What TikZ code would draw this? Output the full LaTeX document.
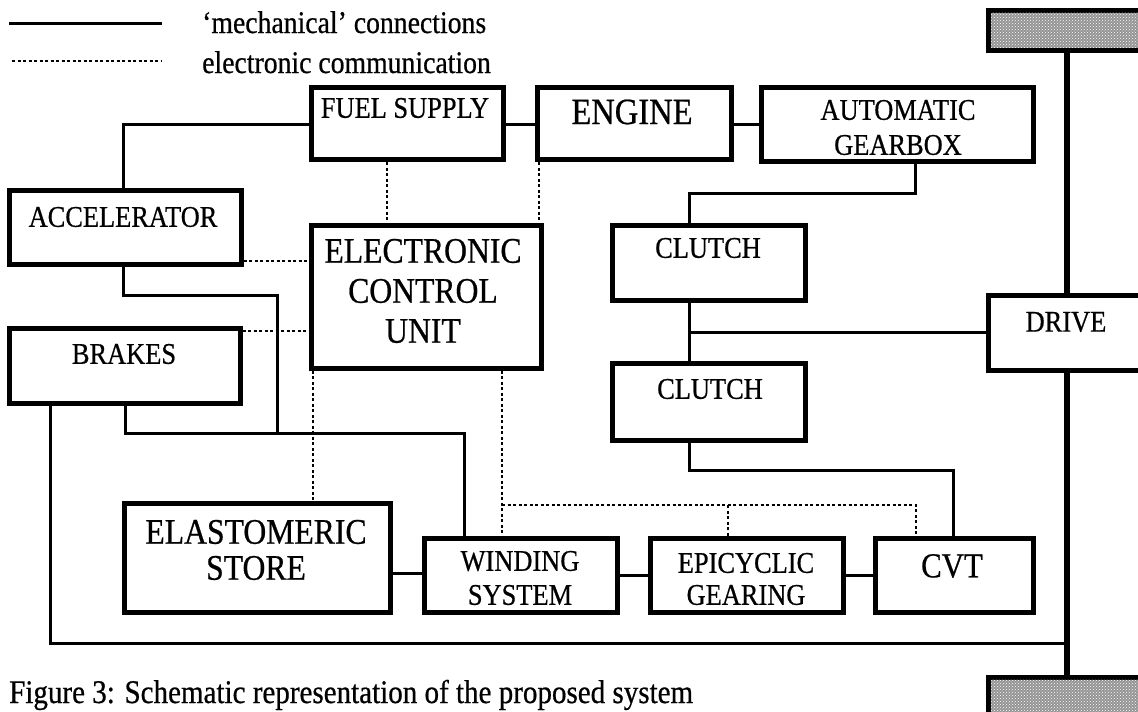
\documentclass[tikz,border=0pt]{standalone}
\usepackage{fontspec}
\setmainfont{Liberation Serif}[FakeStretch=0.88,FakeBold=0.6]
\usetikzlibrary{patterns}
\begin{document}
\begin{tikzpicture}[x=1pt,y=-1pt,
  box/.style={draw=black, line width=5pt, fill=white, inner sep=0pt},
  wheel/.style={draw=black, line width=5pt, fill=black!42, inner sep=0pt},
  mech/.style={line width=3pt},
  axle/.style={line width=5.5pt},
  elec/.style={line width=2.5pt, dash pattern=on 3pt off 2.5pt},
  lbl/.style={inner sep=0pt, align=center, font=\fontsize{30}{35}\selectfont},
  big/.style={inner sep=0pt, align=center, font=\fontsize{36}{36}\selectfont},
  txt/.style={inner sep=0pt, font=\fontsize{31.5}{35}\selectfont}]
\useasboundingbox (0,0) rectangle (1138,712);
\clip (0,0) rectangle (1138,712);

% boxes
\node[box, minimum width=192, minimum height=72] (fuel) at (407,123.5) {};
\node[box, minimum width=194, minimum height=72] (engine) at (634,123.5) {};
\node[box, minimum width=272, minimum height=74] (gearbox) at (897,124.5) {};
\node[box, minimum width=232, minimum height=74] (accel) at (125,227) {};
\node[box, minimum width=230, minimum height=143] (ecu) at (426,296.5) {};
\node[box, minimum width=193, minimum height=75] (clutchA) at (708.5,262.5) {};
\node[box, minimum width=193, minimum height=77] (clutchB) at (708.5,401.5) {};
\node[box, minimum width=180, minimum height=75] (drive) at (1078,332.5) {};
\node[box, minimum width=231, minimum height=75] (brakes) at (124.5,365.5) {};
\node[box, minimum width=266, minimum height=109] (elas) at (257,557.5) {};
\node[box, minimum width=193, minimum height=74] (winding) at (520.5,575) {};
\node[box, minimum width=193, minimum height=74] (epi) at (746.5,575) {};
\node[box, minimum width=158, minimum height=74] (cvt) at (954,575) {};
\node[wheel, minimum width=170, minimum height=40] (topw) at (1073,30) {};
\node[wheel, minimum width=170, minimum height=46] (botw) at (1073,700) {};
\fill[pattern=crosshatch dots, pattern color=white] (990.5,12.5) rectangle (1138,47.5);
\fill[pattern=crosshatch dots, pattern color=white] (990.5,679.5) rectangle (1138,712);

% labels
\node[lbl] (tfuel) at (405,108) {FUEL SUPPLY};
\node[lbl, font=\fontsize{37}{37}\selectfont] (tengine) at (632,112) {ENGINE};
\node[lbl] (tgear) at (898,127.5) {AUTOMATIC\\GEARBOX};
\node[lbl] (taccel) at (123,217) {ACCELERATOR};
\node[big, font=\fontsize{36}{40}\selectfont] (tecu) at (423,291) {ELECTRONIC\\CONTROL\\UNIT};
\node[lbl] (tclA) at (708,248) {CLUTCH};
\node[lbl] (tclB) at (710,389) {CLUTCH};
\node[lbl] (tdrive) at (1066,322) {DRIVE};
\node[lbl] (tbrakes) at (124,354) {BRAKES};
\node[big] (telas) at (256,550) {ELASTOMERIC\\STORE};
\node[lbl, font=\fontsize{30}{34}\selectfont] (twind) at (520,578) {WINDING\\SYSTEM};
\node[lbl, font=\fontsize{30}{32}\selectfont] (tepi) at (746,579) {EPICYCLIC\\GEARING};
\node[lbl, font=\fontsize{35}{35}\selectfont] (tcvt) at (952,566) {CVT};

% legend
\coordinate (l1a) at (9,23); \coordinate (l1b) at (162,23);
\coordinate (l2a) at (12,61); \coordinate (l2b) at (162,61);
\draw[mech] (l1a) -- (l1b);
\draw[elec] (l2a) -- (l2b);
\node[txt, anchor=base west] (leg1) at (202,33) {‘mechanical’ connections};
\node[txt, anchor=base west] (leg2) at (202,73) {electronic communication};

% caption
\node[inner sep=0pt, anchor=base west, font=\fontsize{33}{36}\selectfont] (cap) at (9,703)
  {Figure 3: Schematic representation of the proposed system};

% mechanical connections
\coordinate (m1) at (123,124);
\draw[mech] (accel.north -| m1) -- (m1) -- (fuel.west |- m1);
\draw[mech] (fuel.east |- m1) -- (engine.west |- m1);
\draw[mech] (engine.east |- m1) -- (gearbox.west |- m1);
\coordinate (m2) at (915,193); \coordinate (m3) at (689,193);
\draw[mech] (gearbox.south -| m2) -- (m2) -- (m3) -- (clutchA.north -| m3);
\draw[mech] (clutchA.south -| m3) -- (clutchB.north -| m3);
\coordinate (j1) at (689,332);
\draw[mech] (j1) -- (drive.west |- j1);
\coordinate (m4) at (689,470); \coordinate (m5) at (953,470);
\draw[mech] (clutchB.south -| m4) -- (m4) -- (m5) -- (cvt.north -| m5);
\coordinate (m6) at (123,295); \coordinate (m7) at (277,295); \coordinate (m8) at (277,433);
\draw[mech] (accel.south -| m6) -- (m6) -- (m7) -- (m8);
\coordinate (m9) at (125,433); \coordinate (m10) at (464,433);
\draw[mech] (brakes.south -| m9) -- (m9) -- (m10) -- (winding.north -| m10);
\coordinate (m11) at (50,643); \coordinate (m12) at (1067,643);
\draw[mech] (brakes.south -| m11) -- (m11) -- (m12);
\coordinate (m13) at (400,573); \coordinate (m14) at (630,575);
\draw[mech] (elas.east |- m13) -- (winding.west |- m13);
\draw[mech] (winding.east |- m14) -- (epi.west |- m14);
\draw[mech] (epi.east |- m14) -- (cvt.west |- m14);
\draw[axle] (topw.south -| m12) -- (drive.north -| m12);
\draw[axle] (drive.south -| m12) -- (botw.north -| m12);

% electronic communication
\coordinate (e1) at (387,200); \coordinate (e2) at (539,200);
\draw[elec] (fuel.south -| e1) -- (ecu.north -| e1);
\draw[elec] (engine.south -| e2) -- (ecu.north -| e2);
\coordinate (e3) at (270,261); \coordinate (e4) at (270,331);
\draw[elec] (accel.east |- e3) -- (ecu.west |- e3);
\draw[elec] (brakes.east |- e4) -- (ecu.west |- e4);
\coordinate (e5) at (313,450);
\draw[elec] (ecu.south -| e5) -- (elas.north -| e5);
\coordinate (e6) at (502,505); \coordinate (e7) at (916,505); \coordinate (e8) at (728,505);
\draw[elec] (ecu.south -| e6) -- (winding.north -| e6);
\draw[elec] (e6) -- (e7) -- (cvt.north -| e7);
\draw[elec] (e8) -- (epi.north -| e8);
\end{tikzpicture}
\end{document}
